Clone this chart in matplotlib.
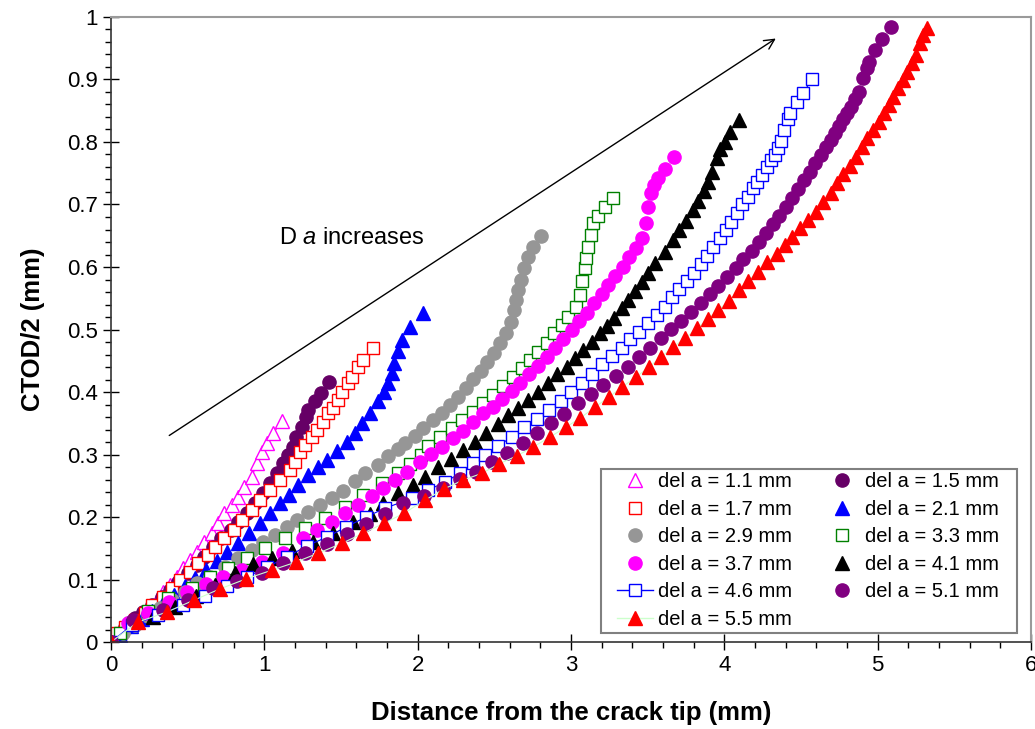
import matplotlib
matplotlib.use("Agg")
import matplotlib.pyplot as plt
from matplotlib.lines import Line2D
from matplotlib.patches import Rectangle
from matplotlib.ticker import MultipleLocator, FormatStrFormatter

plt.rcParams["font.family"] = ["Liberation Sans", "DejaVu Sans"]
plt.rcParams["mathtext.fontset"] = "custom"
plt.rcParams["mathtext.rm"] = "Liberation Sans"
plt.rcParams["mathtext.it"] = "Liberation Sans:italic"

# (distance from crack tip mm, CTOD/2 mm)
del_1_1 = [(0, 0), (0.06, 0.016), (0.12, 0.030), (0.19, 0.043), (0.24, 0.056), (0.30, 0.067),
           (0.34, 0.080), (0.385, 0.091), (0.43, 0.104), (0.47, 0.118), (0.515, 0.131),
           (0.56, 0.144), (0.61, 0.160), (0.66, 0.174), (0.70, 0.190), (0.74, 0.206),
           (0.79, 0.219), (0.83, 0.232), (0.87, 0.248), (0.92, 0.264), (0.95, 0.286),
           (0.985, 0.304), (1.02, 0.318), (1.06, 0.334), (1.115, 0.354)]
del_1_5 = [(0, 0), (0.09, 0.024), (0.16, 0.038), (0.21, 0.048), (0.27, 0.059), (0.33, 0.072),
           (0.385, 0.083), (0.44, 0.096), (0.50, 0.110), (0.56, 0.123), (0.61, 0.136),
           (0.665, 0.152), (0.72, 0.166), (0.78, 0.179), (0.83, 0.192), (0.89, 0.206),
           (0.94, 0.222), (0.99, 0.238), (1.04, 0.254), (1.08, 0.270), (1.12, 0.286),
           (1.155, 0.299), (1.19, 0.312), (1.21, 0.328), (1.245, 0.344), (1.27, 0.360),
           (1.285, 0.371), (1.33, 0.386), (1.37, 0.398), (1.42, 0.416)]
del_1_7 = [(0, 0), (0.04, 0.014), (0.09, 0.024), (0.16, 0.035), (0.22, 0.046), (0.27, 0.059),
           (0.34, 0.072), (0.40, 0.086), (0.45, 0.099), (0.515, 0.112), (0.57, 0.126),
           (0.63, 0.139), (0.68, 0.152), (0.74, 0.166), (0.80, 0.179), (0.855, 0.195),
           (0.92, 0.211), (0.97, 0.227), (1.04, 0.243), (1.10, 0.259), (1.17, 0.275),
           (1.20, 0.288), (1.23, 0.304), (1.265, 0.315), (1.31, 0.328), (1.345, 0.339),
           (1.38, 0.352), (1.415, 0.366), (1.45, 0.374), (1.48, 0.387), (1.51, 0.400),
           (1.545, 0.414), (1.57, 0.424), (1.61, 0.440), (1.645, 0.451), (1.71, 0.470)]
del_2_1 = [(0, 0), (0.06, 0.012), (0.13, 0.025), (0.20, 0.037), (0.27, 0.050), (0.34, 0.063),
           (0.41, 0.076), (0.48, 0.089), (0.55, 0.102), (0.62, 0.116), (0.69, 0.130),
           (0.76, 0.144), (0.83, 0.159), (0.90, 0.174), (0.97, 0.190), (1.04, 0.207),
           (1.10, 0.222), (1.16, 0.236), (1.22, 0.251), (1.285, 0.267), (1.35, 0.280),
           (1.41, 0.292), (1.474, 0.305), (1.54, 0.320), (1.59, 0.334), (1.637, 0.350),
           (1.69, 0.366), (1.742, 0.385), (1.78, 0.400), (1.807, 0.414), (1.83, 0.430),
           (1.845, 0.446), (1.87, 0.465), (1.898, 0.483), (1.95, 0.504), (2.035, 0.526)]
del_2_9 = [(0, 0), (0.08, 0.014), (0.16, 0.028), (0.24, 0.041), (0.32, 0.054), (0.40, 0.067),
           (0.48, 0.080), (0.561, 0.094), (0.646, 0.104), (0.744, 0.120), (0.828, 0.134),
           (0.920, 0.147), (0.992, 0.160), (1.070, 0.171), (1.148, 0.184), (1.213, 0.195),
           (1.285, 0.208), (1.363, 0.219), (1.442, 0.230), (1.513, 0.242), (1.59, 0.257),
           (1.66, 0.270), (1.74, 0.284), (1.81, 0.297), (1.87, 0.309), (1.92, 0.318),
           (1.983, 0.330), (2.035, 0.342), (2.100, 0.355), (2.159, 0.366), (2.211, 0.379),
           (2.264, 0.392), (2.316, 0.406), (2.361, 0.421), (2.414, 0.434), (2.453, 0.448),
           (2.498, 0.462), (2.538, 0.478), (2.577, 0.494), (2.609, 0.512), (2.629, 0.531),
           (2.640, 0.547), (2.655, 0.563), (2.672, 0.580), (2.694, 0.598), (2.72, 0.616),
           (2.753, 0.632), (2.805, 0.650)]
del_3_3 = [(0, 0), (0.06, 0.015), (0.13, 0.030), (0.24, 0.050), (0.37, 0.070), (0.53, 0.086),
           (0.646, 0.104), (0.763, 0.118), (0.887, 0.134), (1.005, 0.150), (1.135, 0.166),
           (1.265, 0.182), (1.396, 0.198), (1.526, 0.216), (1.644, 0.235), (1.768, 0.254),
           (1.87, 0.270), (1.95, 0.285), (2.02, 0.300), (2.07, 0.314), (2.146, 0.328),
           (2.224, 0.342), (2.29, 0.355), (2.361, 0.368), (2.427, 0.382), (2.492, 0.395),
           (2.557, 0.410), (2.622, 0.424), (2.681, 0.438), (2.733, 0.451), (2.785, 0.464),
           (2.844, 0.478), (2.89, 0.494), (2.942, 0.507), (2.98, 0.520), (3.033, 0.536),
           (3.06, 0.556), (3.075, 0.578), (3.09, 0.598), (3.10, 0.614), (3.112, 0.632),
           (3.131, 0.651), (3.144, 0.670), (3.177, 0.682), (3.222, 0.696), (3.275, 0.710)]
del_3_7 = [(0, 0), (0.111, 0.030), (0.241, 0.046), (0.378, 0.064), (0.496, 0.080), (0.620, 0.093),
           (0.731, 0.104), (0.855, 0.115), (0.985, 0.128), (1.122, 0.142), (1.252, 0.166),
           (1.344, 0.179), (1.442, 0.192), (1.526, 0.206), (1.611, 0.219), (1.703, 0.234),
           (1.774, 0.246), (1.853, 0.259), (1.931, 0.272), (2.016, 0.288), (2.087, 0.301),
           (2.159, 0.312), (2.231, 0.326), (2.296, 0.338), (2.361, 0.352), (2.427, 0.366),
           (2.492, 0.376), (2.551, 0.389), (2.616, 0.402), (2.668, 0.414), (2.727, 0.429),
           (2.785, 0.442), (2.844, 0.456), (2.896, 0.470), (2.948, 0.485), (3.007, 0.499),
           (3.053, 0.514), (3.105, 0.526), (3.151, 0.542), (3.203, 0.557), (3.242, 0.571),
           (3.288, 0.586), (3.340, 0.600), (3.379, 0.616), (3.425, 0.630), (3.464, 0.646),
           (3.490, 0.670), (3.50, 0.696), (3.522, 0.718), (3.542, 0.731), (3.568, 0.742),
           (3.614, 0.757), (3.672, 0.776)]
del_4_1 = [(0, 0), (0.274, 0.040), (0.417, 0.056), (0.554, 0.074), (0.678, 0.091), (0.809, 0.110),
           (0.926, 0.125), (1.05, 0.135), (1.181, 0.146), (1.318, 0.160), (1.448, 0.174),
           (1.579, 0.192), (1.690, 0.205), (1.774, 0.222), (1.872, 0.238), (1.970, 0.251),
           (2.048, 0.264), (2.133, 0.280), (2.218, 0.293), (2.296, 0.307), (2.374, 0.320),
           (2.446, 0.334), (2.524, 0.349), (2.590, 0.363), (2.655, 0.374), (2.720, 0.387),
           (2.785, 0.400), (2.851, 0.414), (2.909, 0.429), (2.975, 0.440), (3.027, 0.454),
           (3.079, 0.467), (3.138, 0.480), (3.190, 0.494), (3.235, 0.506), (3.281, 0.518),
           (3.333, 0.534), (3.372, 0.547), (3.418, 0.562), (3.464, 0.576), (3.503, 0.590),
           (3.549, 0.606), (3.614, 0.624), (3.666, 0.643), (3.705, 0.659), (3.751, 0.674),
           (3.797, 0.691), (3.829, 0.706), (3.868, 0.722), (3.894, 0.736), (3.920, 0.752),
           (3.953, 0.774), (3.973, 0.789), (4.005, 0.800), (4.038, 0.816), (4.097, 0.835)]
del_4_6 = [(0, 0), (0.137, 0.027), (0.307, 0.043), (0.470, 0.059), (0.613, 0.074), (0.757, 0.090),
           (0.887, 0.104), (1.018, 0.120), (1.148, 0.136), (1.279, 0.154), (1.409, 0.168),
           (1.533, 0.184), (1.663, 0.200), (1.787, 0.214), (1.963, 0.230), (2.068, 0.243),
           (2.179, 0.256), (2.277, 0.270), (2.361, 0.286), (2.440, 0.299), (2.524, 0.314),
           (2.616, 0.328), (2.694, 0.344), (2.779, 0.357), (2.857, 0.371), (2.935, 0.386),
           (3.001, 0.400), (3.072, 0.414), (3.138, 0.429), (3.203, 0.445), (3.268, 0.458),
           (3.333, 0.470), (3.386, 0.485), (3.444, 0.496), (3.503, 0.510), (3.562, 0.523),
           (3.614, 0.536), (3.660, 0.552), (3.705, 0.565), (3.757, 0.578), (3.803, 0.590),
           (3.849, 0.605), (3.888, 0.618), (3.927, 0.632), (3.973, 0.646), (4.012, 0.659),
           (4.044, 0.672), (4.084, 0.686), (4.116, 0.701), (4.155, 0.712), (4.188, 0.726),
           (4.214, 0.736), (4.247, 0.747), (4.279, 0.760), (4.305, 0.771), (4.331, 0.779),
           (4.351, 0.790), (4.371, 0.802), (4.390, 0.819), (4.416, 0.837), (4.429, 0.846),
           (4.475, 0.864), (4.514, 0.878), (4.573, 0.901)]
del_5_1 = [(0, 0), (0.144, 0.035), (0.339, 0.051), (0.502, 0.067), (0.665, 0.086), (0.822, 0.098),
           (0.985, 0.110), (1.122, 0.126), (1.266, 0.142), (1.409, 0.157), (1.539, 0.173),
           (1.663, 0.189), (1.787, 0.205), (1.905, 0.222), (2.042, 0.234), (2.166, 0.246),
           (2.277, 0.261), (2.381, 0.272), (2.485, 0.288), (2.583, 0.302), (2.688, 0.318),
           (2.779, 0.334), (2.870, 0.350), (2.955, 0.365), (3.046, 0.382), (3.131, 0.397),
           (3.209, 0.411), (3.294, 0.426), (3.372, 0.440), (3.444, 0.456), (3.516, 0.470),
           (3.588, 0.486), (3.653, 0.501), (3.718, 0.514), (3.783, 0.528), (3.849, 0.542),
           (3.907, 0.557), (3.960, 0.570), (4.018, 0.584), (4.077, 0.598), (4.123, 0.613),
           (4.181, 0.626), (4.227, 0.640), (4.273, 0.654), (4.318, 0.669), (4.357, 0.682),
           (4.403, 0.696), (4.442, 0.710), (4.481, 0.725), (4.521, 0.739), (4.560, 0.752),
           (4.592, 0.766), (4.631, 0.779), (4.664, 0.792), (4.697, 0.803), (4.723, 0.814),
           (4.749, 0.826), (4.775, 0.837), (4.801, 0.846), (4.827, 0.856), (4.853, 0.869),
           (4.879, 0.880), (4.905, 0.902), (4.932, 0.918), (4.945, 0.928), (4.984, 0.947),
           (5.029, 0.965), (5.088, 0.984)]
del_5_5 = [(0, 0), (0.176, 0.032), (0.365, 0.048), (0.541, 0.067), (0.711, 0.085), (0.881, 0.101),
           (1.050, 0.115), (1.207, 0.128), (1.350, 0.142), (1.507, 0.158), (1.644, 0.174),
           (1.781, 0.190), (1.911, 0.206), (2.048, 0.227), (2.172, 0.245), (2.296, 0.259),
           (2.420, 0.270), (2.531, 0.285), (2.648, 0.298), (2.753, 0.312), (2.864, 0.328),
           (2.968, 0.344), (3.059, 0.358), (3.157, 0.376), (3.249, 0.392), (3.333, 0.408),
           (3.425, 0.424), (3.509, 0.440), (3.588, 0.456), (3.666, 0.472), (3.744, 0.486),
           (3.823, 0.502), (3.894, 0.517), (3.960, 0.531), (4.031, 0.546), (4.097, 0.563),
           (4.155, 0.578), (4.220, 0.592), (4.279, 0.608), (4.344, 0.621), (4.397, 0.635),
           (4.442, 0.648), (4.494, 0.662), (4.547, 0.675), (4.599, 0.688), (4.644, 0.704),
           (4.697, 0.718), (4.736, 0.734), (4.775, 0.749), (4.821, 0.762), (4.860, 0.776),
           (4.899, 0.792), (4.932, 0.806), (4.971, 0.819), (5.010, 0.832), (5.042, 0.846),
           (5.075, 0.859), (5.101, 0.872), (5.134, 0.886), (5.166, 0.899), (5.192, 0.912),
           (5.225, 0.926), (5.251, 0.939), (5.277, 0.958), (5.297, 0.971), (5.323, 0.982)]

labels = ["del a = 1.1 mm", "del a = 1.5 mm", "del a = 1.7 mm", "del a = 2.1 mm",
          "del a = 2.9 mm", "del a = 3.3 mm", "del a = 3.7 mm", "del a = 4.1 mm",
          "del a = 4.6 mm", "del a = 5.1 mm", "del a = 5.5 mm"]
series = [del_1_1, del_1_5, del_1_7, del_2_1, del_2_9, del_3_3,
          del_3_7, del_4_1, del_4_6, del_5_1, del_5_5]

# marker, marker color, face color, line color (None = no line), line shown in legend
styles = [
    ("^", "#ff00ff", "white", "#ff00ff", False),
    ("o", "#660066", "#660066", None, False),
    ("s", "#ff0000", "white", None, False),
    ("^", "#0000ff", "#0000ff", None, False),
    ("o", "#969696", "#969696", None, False),
    ("s", "#008000", "white", None, False),
    ("o", "#ff00ff", "#ff00ff", None, False),
    ("^", "#000000", "#000000", None, False),
    ("s", "#0000ff", "white", "#0000ff", True),
    ("o", "#800080", "#800080", None, False),
    ("^", "#ff0000", "#ff0000", "#ccffcc", True),
]
sizes = {"o": 9.5, "^": 9.5, "s": 8.5}

fig = plt.figure(figsize=(10.35, 7.29), dpi=100)
ax = fig.add_axes([0.1072, 0.1193, 0.8889, 0.8574])

handles = []
for data, lab, (mk, mc, fc, lc, leg_line) in zip(series, labels, styles):
    xs = [p[0] for p in data]
    ys = [p[1] for p in data]
    ax.plot(xs, ys, linestyle="-" if lc else "none", color=lc or mc, lw=0.8,
            marker=mk, markersize=sizes[mk], markerfacecolor=fc, markeredgecolor=mc,
            markeredgewidth=1.0)
    handles.append(Line2D([], [], linestyle="-" if leg_line else "none", color=lc or mc,
                          lw=1.0, marker=mk, markersize=sizes[mk], markerfacecolor=fc,
                          markeredgecolor=mc, markeredgewidth=1.0))

ax.set_xlim(0, 6)
ax.set_ylim(0, 1)
ax.xaxis.set_major_locator(MultipleLocator(1))
ax.xaxis.set_minor_locator(MultipleLocator(0.2))
ax.yaxis.set_major_locator(MultipleLocator(0.1))
ax.yaxis.set_minor_locator(MultipleLocator(0.02))
ax.yaxis.set_major_formatter(FormatStrFormatter("%g"))
ax.tick_params(which="major", direction="inout", length=11, width=1, labelsize=16, pad=4)
ax.tick_params(which="minor", direction="out", length=4, width=1)

for side in ["top", "right"]:
    ax.spines[side].set_color("#9a9a9a")
    ax.spines[side].set_linewidth(1.5)
for side in ["left", "bottom"]:
    ax.spines[side].set_color("#333333")
    ax.spines[side].set_linewidth(1.2)

ax.set_xlabel("Distance from the crack tip (mm)", fontsize=18.5, fontweight="bold", labelpad=18)
ax.set_ylabel("CTOD/2 (mm)", fontsize=18.5, fontweight="bold", labelpad=16)

ax.annotate("", xy=(4.351, 0.968), xytext=(0.365, 0.328),
            arrowprops=dict(arrowstyle="->", color="black", lw=1, mutation_scale=18))
ax.text(1.096, 0.646, "D $a$ increases", fontsize=17, va="center", ha="left")

# legend frame drawn separately so the padding matches the original
ax.add_patch(Rectangle((0.5326, 0.0144), 0.4522, 0.2624, transform=ax.transAxes,
                       facecolor="white", edgecolor="#808080", lw=1.5, zorder=4))
order = [0, 2, 4, 6, 8, 10, 1, 3, 5, 7, 9]
leg = ax.legend([handles[i] for i in order], [labels[i] for i in order],
                ncol=2, loc="upper left", bbox_to_anchor=(0.55, 0.2715),
                borderaxespad=0, borderpad=0, fontsize=14.5, frameon=False,
                handlelength=1.8, handletextpad=0.25, columnspacing=1.55,
                labelspacing=0.42)
leg.set_zorder(5)

fig.savefig("out.png", dpi=100)
